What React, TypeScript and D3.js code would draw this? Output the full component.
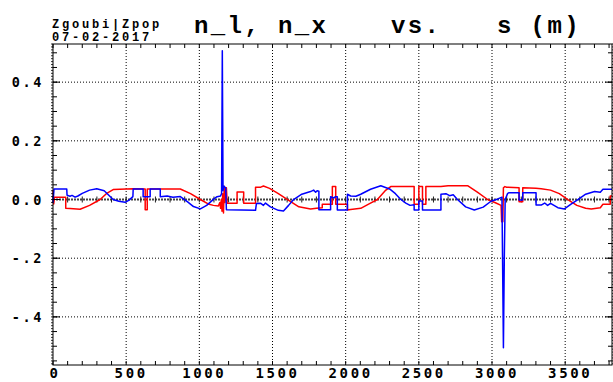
import React from "react";
import * as d3 from "d3";

// Longitudinal and horizontal components of the spin vector along the ring
const nL: [number, number][] = [
  [0, -0.012], [7, 0.036], [94, 0.036], [96, 0.015], [116, 0.011], [130, 0.014], [151, 0.008],
  [170, 0.012], [200, 0.021], [250, 0.032], [299, 0.037], [350, 0.03], [411, 0.0], [450, -0.006],
  [493, -0.0095], [520, -0.002], [546, 0.01], [548, 0.036], [616, 0.036], [616, 0.0095],
  [664, 0.0095], [664, 0.036], [733, 0.036], [733, 0.0095], [780, 0.012], [820, 0.008],
  [870, 0.01], [920, -0.008], [960, -0.024], [1007, -0.032], [1050, -0.02], [1100, 0.002],
  [1121, 0.0095], [1145, 0.012], [1152, 0.02], [1157, 0.507], [1162, 0.03], [1168, 0.045],
  [1180, 0.04], [1185, -0.035], [1384, -0.037], [1390, -0.014], [1420, -0.013], [1438, -0.02],
  [1452, -0.012], [1486, -0.025], [1540, -0.037], [1575, -0.039], [1610, -0.02], [1644, 0.0],
  [1700, 0.018], [1760, 0.027], [1781, 0.032], [1795, 0.025], [1805, 0.03], [1817, 0.028],
  [1817, -0.035], [1897, -0.035], [1897, 0.0095], [1918, 0.005], [1930, 0.0095], [1943, 0.0095],
  [1943, -0.036], [2012, -0.036], [2012, 0.018], [2034, 0.012], [2070, 0.011], [2103, 0.018],
  [2170, 0.035], [2240, 0.047], [2300, 0.036], [2340, 0.02], [2377, 0.0], [2411, -0.012],
  [2440, -0.02], [2468, -0.018], [2468, -0.036], [2500, -0.036], [2500, -0.005], [2525, -0.005],
  [2525, -0.036], [2651, -0.036], [2651, 0.018], [2685, 0.02], [2710, 0.013], [2735, 0.016],
  [2764, 0.0], [2820, -0.025], [2879, -0.036], [2940, -0.026], [2993, -0.006], [3040, 0.002],
  [3068, 0.008], [3078, -0.505], [3084, -0.2], [3090, 0.0], [3107, 0.021], [3116, 0.023],
  [3185, 0.023], [3185, -0.002], [3210, -0.002], [3210, 0.023], [3301, 0.023], [3301, -0.019],
  [3336, -0.019], [3360, -0.012], [3380, -0.02], [3400, -0.013], [3450, -0.028], [3495, -0.032],
  [3540, -0.016], [3587, 0.0], [3640, 0.018], [3701, 0.027], [3740, 0.025], [3758, 0.035],
  [3820, 0.035],
];

const nX: [number, number][] = [
  [0, 0.032], [5, -0.015], [10, 0.0075], [87, 0.0075], [87, -0.03], [116, -0.031], [185, -0.033],
  [250, -0.02], [322, 0.0], [370, 0.022], [411, 0.034], [548, 0.037], [630, 0.036], [630, -0.035],
  [644, -0.035], [644, 0.036], [870, 0.036], [940, 0.02], [1007, 0.0], [1060, -0.015],
  [1096, -0.02], [1130, -0.022], [1140, -0.01], [1145, -0.03], [1150, 0.0], [1155, -0.04],
  [1160, 0.02], [1165, -0.046], [1170, 0.045], [1175, -0.01], [1185, 0.04], [1190, -0.013],
  [1258, -0.013], [1258, 0.026], [1303, 0.026], [1303, -0.013], [1384, -0.013], [1384, 0.042],
  [1420, 0.042], [1438, 0.046], [1480, 0.038], [1540, 0.02], [1603, 0.0], [1680, -0.025],
  [1760, -0.032], [1800, -0.03], [1840, -0.028], [1840, -0.016], [1909, -0.016], [1909, 0.044],
  [1932, 0.044], [1932, -0.016], [2012, -0.016], [2012, -0.036], [2034, -0.034], [2103, -0.03],
  [2160, -0.015], [2217, 0.0], [2270, 0.03], [2308, 0.044], [2468, 0.044], [2468, -0.016],
  [2500, -0.016], [2500, 0.044], [2525, 0.044], [2525, -0.016], [2548, -0.016], [2548, 0.044],
  [2570, 0.044], [2651, 0.044], [2700, 0.047], [2833, 0.047], [2900, 0.025],
  [2970, 0.0], [3027, -0.012], [3062, -0.02], [3066, -0.076], [3074, -0.076], [3078, 0.04],
  [3088, 0.044], [3100, 0.042], [3185, 0.04], [3185, -0.0075], [3210, -0.0075], [3210, 0.04],
  [3300, 0.038], [3336, 0.037], [3400, 0.032], [3460, 0.02], [3518, 0.0], [3580, -0.02],
  [3640, -0.03], [3678, -0.032], [3740, -0.028], [3758, -0.016], [3808, -0.016], [3808, 0.012],
  [3820, 0.012],
];

const xTicks = [0, 500, 1000, 1500, 2000, 2500, 3000, 3500];
const yTicks = [0.4, 0.2, 0, -0.2, -0.4];
const yTickLabels = ["0.4", "0.2", "0.0", "-.2", "-.4"];
const titleParts = ["n_l, n_x", "vs.", "s (m)"];
const stamp = ["Zgoubi|Zpop", "07-02-2017"];

const W = 613;
const H = 382;
const left = 53;
const right = 612;
const top = 44;
const bottom = 365;

export default function App() {
  const x = d3.scaleLinear().domain([0, 3820]).range([left, right]);
  const y = d3.scaleLinear().domain([-0.564, 0.53]).range([bottom, top]);
  const line = d3
    .line<[number, number]>()
    .x((d) => x(d[0]))
    .y((d) => y(d[1]));

  const xMinor = d3.range(0, 3821, 100);
  const yMinor = d3.range(-0.55, 0.531, 0.05);
  const yMicro = d3.range(-0.56, 0.531, 0.01);
  const mono = "'DejaVu Sans Mono', monospace";
  const courier = "'Liberation Mono', 'Courier New', monospace";

  return (
    <svg
      width={W}
      height={H}
      style={{ position: "fixed", left: 0, top: 0, background: "#fff" }}
    >
      <rect x={0} y={0} width={W} height={H} fill="#fff" />

      {/* dotted grid */}
      {xTicks.slice(1).map((t) => (
        <line key={"gx" + t} x1={x(t)} x2={x(t)} y1={top} y2={bottom} stroke="#000" strokeWidth={1} strokeDasharray="1,2" />
      ))}
      {yTicks.filter((t) => t !== 0).map((t) => (
        <line key={"gy" + t} x1={left} x2={right} y1={y(t)} y2={y(t)} stroke="#000" strokeWidth={1} strokeDasharray="1,2" />
      ))}

      {/* zero line with ticks */}
      <line x1={left} x2={right} y1={y(0)} y2={y(0)} stroke="#444" strokeWidth={2} strokeDasharray="2,1" />
      {xMinor.map((t) => (
        <line key={"zt" + t} x1={x(t)} x2={x(t)} y1={y(0) - 3} y2={y(0) + 3} stroke="#222" strokeWidth={1} />
      ))}

      {/* curves */}
      <path d={line(nX) ?? ""} fill="none" stroke="#ff0000" strokeWidth={1.5} strokeLinejoin="round" />
      <path d={line(nL) ?? ""} fill="none" stroke="#0000ff" strokeWidth={1.5} strokeLinejoin="round" />

      {/* frame */}
      <rect x={left} y={top} width={right - left} height={bottom - top} fill="none" stroke="#000" strokeWidth={1} />

      {/* x ticks on bottom and top */}
      {xMinor.map((t) => (
        <g key={"xt" + t}>
          <line x1={x(t)} x2={x(t)} y1={bottom} y2={bottom - 4} stroke="#000" />
          <line x1={x(t)} x2={x(t)} y1={top} y2={top + 4} stroke="#000" />
        </g>
      ))}

      {/* y ticks on left and right */}
      {yMicro.map((t, i) => (
        <g key={"ym" + i}>
          <line x1={left - 2} x2={left} y1={y(t)} y2={y(t)} stroke="#000" strokeWidth={0.8} />
          <line x1={right} x2={right + 2} y1={y(t)} y2={y(t)} stroke="#000" strokeWidth={0.8} />
        </g>
      ))}
      {yMinor.map((t, i) => (
        <g key={"yn" + i}>
          <line x1={left} x2={left + 4} y1={y(t)} y2={y(t)} stroke="#000" />
          <line x1={right - 4} x2={right} y1={y(t)} y2={y(t)} stroke="#000" />
        </g>
      ))}
      {yTicks.map((t) => (
        <g key={"yM" + t}>
          <line x1={left} x2={left + 7} y1={y(t)} y2={y(t)} stroke="#000" />
          <line x1={right - 7} x2={right} y1={y(t)} y2={y(t)} stroke="#000" />
        </g>
      ))}

      {/* tick labels */}
      {xTicks.map((t) => (
        <text
          key={"xl" + t}
          x={x(t) + (t === 0 ? 2 : 5)}
          y={378}
          textAnchor="middle"
          fontFamily={mono}
          fontWeight="bold"
          fontSize={14}
          letterSpacing={2.6}
          fill="#000"
        >
          {t}
        </text>
      ))}
      {yTicks.map((t, i) => (
        <text
          key={"yl" + t}
          x={44}
          y={y(t) + 5}
          textAnchor="end"
          fontFamily={mono}
          fontWeight="bold"
          fontSize={13.5}
          letterSpacing={2.6}
          fill="#000"
        >
          {yTickLabels[i]}
        </text>
      ))}

      {/* title and stamp */}
      <text x={194} y={33} fontFamily={courier} fontWeight="bold" fontSize={24} letterSpacing={2.4} fill="#000">
        {titleParts[0]}
      </text>
      <text x={391} y={33} fontFamily={courier} fontWeight="bold" fontSize={24} letterSpacing={2.4} fill="#000">
        {titleParts[1]}
      </text>
      <text x={497} y={33} fontFamily={courier} fontWeight="bold" fontSize={24} letterSpacing={2.4} fill="#000">
        {titleParts[2]}
      </text>
      <text x={52} y={28} fontFamily={courier} fontWeight="bold" fontSize={12} letterSpacing={2.8} fill="#000">
        {stamp[0]}
      </text>
      <text x={52} y={41} fontFamily={courier} fontWeight="bold" fontSize={12} letterSpacing={2.8} fill="#000">
        {stamp[1]}
      </text>
    </svg>
  );
}
